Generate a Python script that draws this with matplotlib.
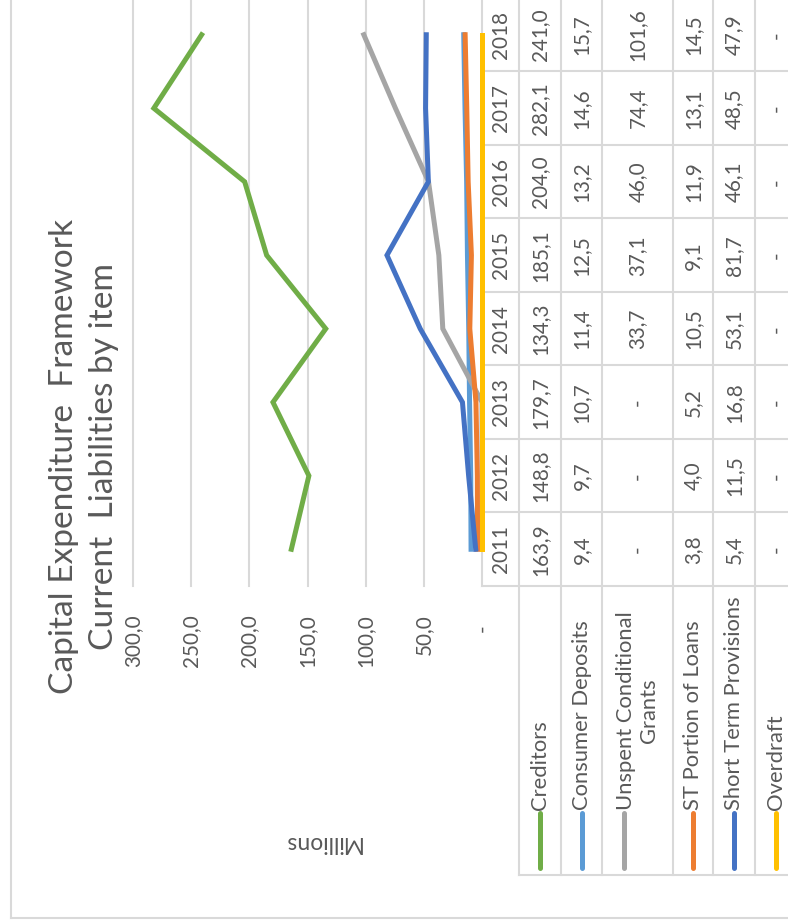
import matplotlib
matplotlib.use("Agg")
import matplotlib.pyplot as plt
from matplotlib.lines import Line2D
from matplotlib.transforms import blended_transform_factory

plt.rcParams['font.family'] = ['Lato', 'DejaVu Sans']

years = [2011, 2012, 2013, 2014, 2015, 2016, 2017, 2018]
series_names = ["Creditors", "Consumer Deposits", "Unspent Conditional\nGrants",
                "ST Portion of Loans", "Short Term Provisions", "Overdraft"]
creditors = [163.9, 148.8, 179.7, 134.3, 185.1, 204.0, 282.1, 241.0]
consumer_deposits = [9.4, 9.7, 10.7, 11.4, 12.5, 13.2, 14.6, 15.7]
unspent_grants = [0, 0, 0, 33.7, 37.1, 46.0, 74.4, 101.6]
st_loans = [3.8, 4.0, 5.2, 10.5, 9.1, 11.9, 13.1, 14.5]
st_provisions = [5.4, 11.5, 16.8, 53.1, 81.7, 46.1, 48.5, 47.9]
overdraft = [0, 0, 0, 0, 0, 0, 0, 0]
value_ticks = [0, 50, 100, 150, 200, 250, 300]

series = [creditors, consumer_deposits, unspent_grants, st_loans, st_provisions, overdraft]
colors = ["#70AD47", "#5B9BD5", "#A5A5A5", "#ED7D31", "#4472C4", "#FFC000"]

TEXT = "#595959"
GRID = "#D9D9D9"

W, H = 788, 921
fig = plt.figure(figsize=(W / 100, H / 100), dpi=100)


def fx(px):
    return px / W


def fy(py):
    return 1 - py / H


def fmt(v):
    # accounting style: zero shows as a dash, decimal comma
    if v == 0:
        return "-"
    return f"{v:.1f}".replace(".", ",")


# plot area, drawn sideways: values run right to left, years bottom to top
plot_left, plot_right, plot_bottom, plot_top = 133, 482, 586, -2
ax = fig.add_axes([fx(plot_left), fy(plot_bottom),
                   fx(plot_right) - fx(plot_left), (plot_bottom - plot_top) / H])
ax.set_xlim(300, 0)
ax.set_ylim(-0.5, len(years) - 0.5)
for s in ax.spines.values():
    s.set_visible(False)
ax.set_xticks(value_ticks)
ax.set_yticks([])
ax.tick_params(axis='x', length=0, labelbottom=False)
ax.grid(axis='x', color=GRID, lw=1.5)
ax.set_axisbelow(True)
for gl in ax.get_xgridlines():
    gl.set_clip_on(False)

ypos = list(range(len(years)))
for vals, c in zip(series, colors):
    ax.plot(vals, ypos, color=c, lw=3.6, solid_joinstyle='miter', clip_on=False)

# value axis labels
xlab = blended_transform_factory(ax.transData, fig.transFigure)
for v in value_ticks:
    if v == 0:
        fig.text(v, fy(624), "-", transform=xlab, rotation=90, ha='center', va='top',
                 fontsize=14.9, color=TEXT)
    else:
        fig.text(v, fy(614), fmt(v), transform=xlab, rotation=90, ha='center', va='top',
                 fontsize=14.9, color=TEXT)

fig.text(fx(322), fy(842), "Millions", rotation=180, ha='center', va='center',
         fontsize=16.5, color=TEXT)

fig.text(fx(84), fy(456), "Capital Expenditure  Framework\nCurrent  Liabilities by item",
         rotation=90, ha='center', va='center', multialignment='center',
         fontsize=24.1, color=TEXT, linespacing=1.45)

# data table
col_edges = [482, 519, 561, 602, 673, 713, 755, 797]
legend_bottom = 875
tr = blended_transform_factory(fig.transFigure, ax.transData)


def hline(y0, x0, x1, transform):
    fig.add_artist(Line2D([x0, x1], [y0, y0], transform=transform, color=GRID,
                          lw=1.5, clip_on=False, zorder=-1))


def vline(x0, y0, y1):
    fig.add_artist(Line2D([fx(x0), fx(x0)], [fy(y0), fy(y1)], transform=fig.transFigure,
                          color=GRID, lw=1.5, clip_on=False, zorder=-1))


for k in range(len(years) + 1):
    hline(k - 0.5, fx(col_edges[0]), fx(col_edges[-1]), tr)
hline(fy(legend_bottom), fx(col_edges[1]), fx(col_edges[-1]), fig.transFigure)
for xe in col_edges[1:]:
    vline(xe, legend_bottom, -10)

year_x = (col_edges[0] + col_edges[1]) / 2
for i, yr in enumerate(years):
    fig.text(fx(year_x), i, str(yr), transform=tr, rotation=90, ha='center',
             va='center', fontsize=14.9, color=TEXT)

for j, (vals, name, c) in enumerate(zip(series, series_names, colors)):
    cx = (col_edges[j + 1] + col_edges[j + 2]) / 2
    for i, v in enumerate(vals):
        fig.text(fx(cx), i, fmt(v), transform=tr, rotation=90, ha='center',
                 va='center', fontsize=14.9, color=TEXT)
    n_lines = name.count("\n") + 1
    key_x = cx - (n_lines - 1) * 14
    fig.add_artist(Line2D([fx(key_x), fx(key_x)], [fy(868), fy(813)],
                          transform=fig.transFigure, color=c, lw=3.6,
                          solid_capstyle='round'))
    fig.text(fx(cx), fy(810), name, rotation=90, ha='center', va='bottom',
             multialignment='center', fontsize=15.8, color=TEXT, linespacing=1.25)

# chart border
vline(11, 918, -10)
fig.add_artist(Line2D([fx(11), fx(800)], [fy(918), fy(918)], transform=fig.transFigure,
                      color=GRID, lw=1.5, clip_on=False, zorder=-1))

fig.savefig("out.png", dpi=100, facecolor="white")
